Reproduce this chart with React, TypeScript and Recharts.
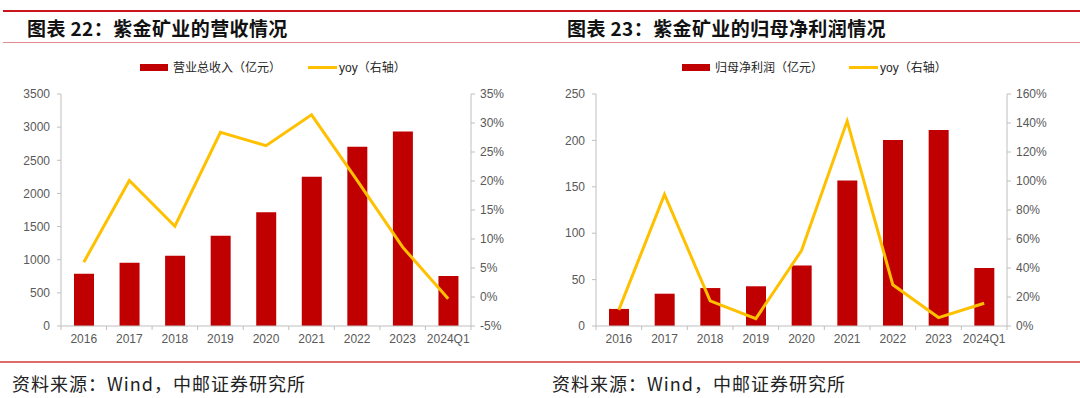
import { ComposedChart, Bar, Line, XAxis, YAxis } from 'recharts';

const years = ['2016', '2017', '2018', '2019', '2020', '2021', '2022', '2023', '2024Q1'];
const revenue = [789, 955, 1060, 1361, 1715, 2251, 2703, 2934, 755];
const revenueYoy = [6.0, 20.1, 12.2, 28.4, 26.1, 31.4, 20.1, 8.6, -0.3];
const profit = [18.4, 34.8, 40.9, 42.8, 65.1, 156.7, 200.4, 211.2, 62.6];
const profitYoy = [11.1, 90.7, 17.3, 5.1, 52.0, 141.3, 28.4, 5.8, 15.7];

const revTicks = [0, 500, 1000, 1500, 2000, 2500, 3000, 3500];
const revYoyTicks = [-5, 0, 5, 10, 15, 20, 25, 30, 35];
const profitTicks = [0, 50, 100, 150, 200, 250];
const profitYoyTicks = [0, 20, 40, 60, 80, 100, 120, 140, 160];

const revenueData = years.map((y, i) => ({ year: y, value: revenue[i], yoy: revenueYoy[i] }));
const profitData = years.map((y, i) => ({ year: y, value: profit[i], yoy: profitYoy[i] }));

const AXIS = '#BFBFBF';
const TEXT = '#595959';
const RED = '#C00000';
const YELLOW = '#FFC000';
const CHART_W = 540;

function makeTick(halfBand: number, count: number) {
  return (props: any) => {
    const { x, y, payload, index } = props;
    return (
      <g>
        <line x1={x - halfBand} y1={y} x2={x - halfBand} y2={y + 4} stroke={AXIS} />
        {index === count - 1 && (
          <line x1={x + halfBand} y1={y} x2={x + halfBand} y2={y + 4} stroke={AXIS} />
        )}
        <text x={x} y={y + 17} textAnchor="middle" fill={TEXT} fontSize={12}>
          {payload.value}
        </text>
      </g>
    );
  };
}

interface PanelProps {
  data: { year: string; value: number; yoy: number }[];
  leftTicks: number[];
  rightTicks: number[];
  leftWidth: number;
  rightWidth: number;
  marginRight: number;
}

function Panel({ data, leftTicks, rightTicks, leftWidth, rightWidth, marginRight }: PanelProps) {
  const plotW = CHART_W - leftWidth - rightWidth - marginRight;
  const half = plotW / data.length / 2;
  return (
    <ComposedChart
      width={CHART_W}
      height={300}
      data={data}
      margin={{ top: 44, right: marginRight, left: 0, bottom: 4 }}
      style={{ fontFamily: 'Arial, "Liberation Sans", sans-serif' }}
    >
      <XAxis
        dataKey="year"
        stroke={AXIS}
        tickLine={false}
        tickSize={0}
        tickMargin={0}
        height={20}
        interval={0}
        tick={makeTick(half, data.length)}
      />
      <YAxis
        yAxisId="left"
        width={leftWidth}
        domain={[leftTicks[0], leftTicks[leftTicks.length - 1]]}
        ticks={leftTicks}
        stroke={AXIS}
        tickSize={4}
        tickMargin={7}
        tick={{ fill: TEXT, fontSize: 12 }}
        interval={0}
      />
      <YAxis
        yAxisId="right"
        orientation="right"
        width={rightWidth}
        domain={[rightTicks[0], rightTicks[rightTicks.length - 1]]}
        ticks={rightTicks}
        stroke={AXIS}
        tickSize={4}
        tickMargin={5}
        tick={{ fill: TEXT, fontSize: 12 }}
        tickFormatter={(v) => `${v}%`}
        interval={0}
      />
      <Bar yAxisId="left" dataKey="value" fill={RED} barSize={20} isAnimationActive={false} />
      <Line
        yAxisId="right"
        type="linear"
        dataKey="yoy"
        stroke={YELLOW}
        strokeWidth={3}
        dot={false}
        isAnimationActive={false}
      />
    </ComposedChart>
  );
}

function LegendRow({ left, barLabel, lineLeft }: { left: number; barLabel: string; lineLeft: number }) {
  const txt = { fontSize: 12, color: '#262626', fontFamily: '"Noto Sans CJK SC", sans-serif', lineHeight: '14px' };
  return (
    <>
      <div style={{ position: 'absolute', left, top: 64, width: 28, height: 7, background: RED }} />
      <div style={{ position: 'absolute', left: left + 33, top: 60, ...txt }}>{barLabel}</div>
      <div style={{ position: 'absolute', left: lineLeft, top: 66, width: 29, height: 3, background: YELLOW }} />
      <div style={{ position: 'absolute', left: lineLeft + 31, top: 60, ...txt }}>
        <span style={{ fontFamily: 'Arial, "Liberation Sans", sans-serif' }}>yoy</span>（右轴）
      </div>
    </>
  );
}

export default function App() {
  const title = {
    position: 'absolute' as const,
    top: 16,
    fontSize: 19,
    fontWeight: 700,
    letterSpacing: 0.4,
    color: '#111',
    fontFamily: '"Noto Sans CJK SC", sans-serif',
    lineHeight: '24px',
  };
  const source = {
    position: 'absolute' as const,
    top: 371,
    fontSize: 18,
    letterSpacing: 1,
    color: '#222',
    fontFamily: '"Noto Sans CJK SC", sans-serif',
    lineHeight: '24px',
  };
  return (
    <div style={{ position: 'absolute', left: 0, top: 0, width: 1080, height: 398, background: '#fff', overflow: 'hidden' }}>
      <div style={{ position: 'absolute', left: 3, top: 10, width: 1077, height: 2, background: '#C9161D' }} />
      <div style={{ position: 'absolute', left: 3, top: 42, width: 1077, height: 1, background: '#E48A8E' }} />
      <div style={{ ...title, left: 27 }}>图表 22：紫金矿业的营收情况</div>
      <div style={{ ...title, left: 567 }}>图表 23：紫金矿业的归母净利润情况</div>

      <LegendRow left={140} barLabel="营业总收入（亿元）" lineLeft={308} />
      <LegendRow left={682} barLabel="归母净利润（亿元）" lineLeft={849} />

      <div style={{ position: 'absolute', left: 0, top: 50 }}>
        <Panel data={revenueData} leftTicks={revTicks} rightTicks={revYoyTicks} leftWidth={61} rightWidth={50} marginRight={19} />
      </div>
      <div style={{ position: 'absolute', left: 540, top: 50 }}>
        <Panel data={profitData} leftTicks={profitTicks} rightTicks={profitYoyTicks} leftWidth={56} rightWidth={50} marginRight={23} />
      </div>

      <div style={{ position: 'absolute', left: 0, top: 361, width: 1080, height: 2, background: '#E06A6A' }} />
      <div style={{ ...source, left: 12 }}>资料来源：Wind，中邮证券研究所</div>
      <div style={{ ...source, left: 552 }}>资料来源：Wind，中邮证券研究所</div>
    </div>
  );
}
